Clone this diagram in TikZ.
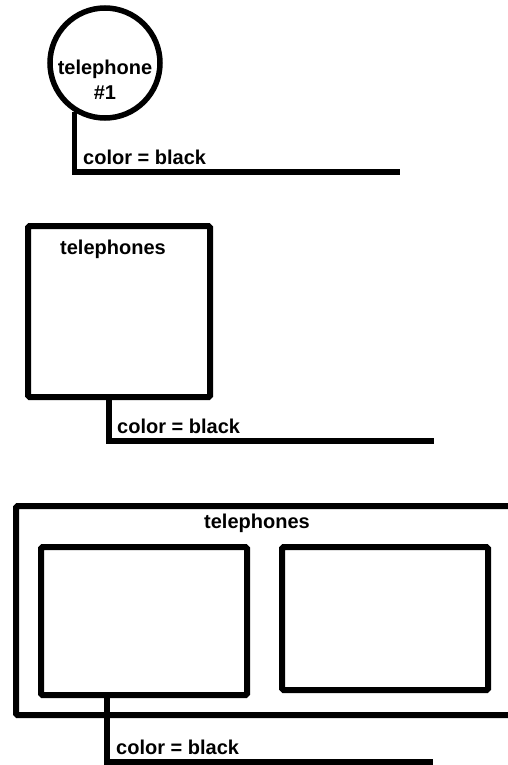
\documentclass[tikz,border=0pt]{standalone}
\usepackage{fontspec}
\setmainfont{Liberation Sans}
\usetikzlibrary{positioning}

\begin{document}
\begin{tikzpicture}[x=1pt,y=-1pt,
 font=\fontsize{20}{25}\selectfont\bfseries,
 thing/.style={draw,circle,line width=5.5pt,minimum size=110pt,inner sep=0pt},
 box/.style={draw,rectangle,line width=6pt,rounded corners=1.5pt,inner sep=0pt},
 leader/.style={line width=5.5pt},
 attr/.style={anchor=west,inner sep=0pt},
 title/.style={inner sep=0pt,align=center}]
 \clip (0,0) rectangle (508,765);
 % (a) one telephone
 \node[thing] (tel1) at (105,63) {};
 \node[title] (tel1name) at ([yshift=-17pt]tel1.center) {telephone\\\#1};
 \coordinate (end1) at (400,172);
 \draw[leader] (tel1.-122) |- (end1);
 \node[attr] (col1) at (83,157) {color = black};
 % (b) set of telephones
 \node[box,minimum width=182pt,minimum height=171pt] (tels) at (119,311.5) {};
 \node[title] (telsname) at (113,249) {telephones};
 \coordinate (end2) at (434,441);
 \draw[leader] ([xshift=-10pt]tels.south) |- (end2);
 \node[attr] (col2) at (117,426) {color = black};
 % (c) set with two members
 \node[box,minimum width=514pt,minimum height=209pt] (set) at (273,610.5) {};
 \node[title] (setname) at (257,523) {telephones};
 \node[box,minimum width=206pt,minimum height=148pt] (mem1) at (144,621) {};
 \node[box,minimum width=206pt,minimum height=143pt] (mem2) at (385,618.5) {};
 \coordinate (end3) at (433,762);
 \draw[leader] ([xshift=-37pt]mem1.south) |- (end3);
 \node[attr] (col3) at (116,747) {color = black};
\end{tikzpicture}
\end{document}
